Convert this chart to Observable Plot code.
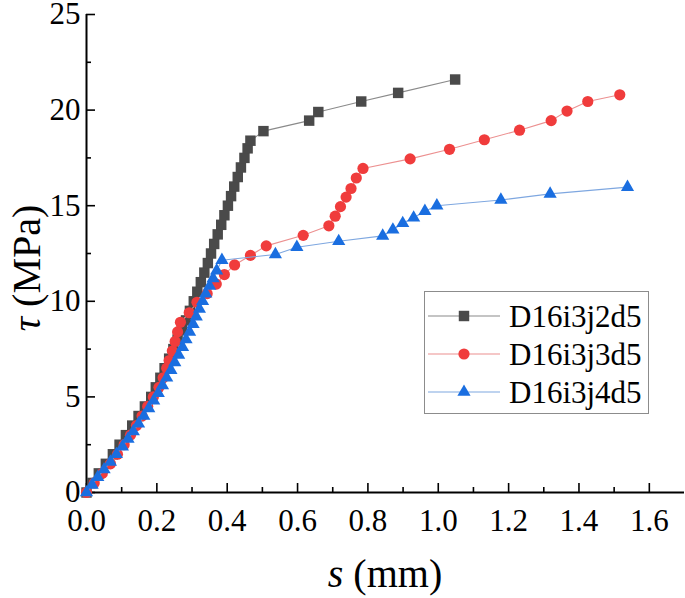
<!DOCTYPE html>
<html>
<head>
<meta charset="utf-8">
<script src="https://cdn.jsdelivr.net/npm/d3@7"></script>
<script src="https://cdn.jsdelivr.net/npm/@observablehq/plot@0.6"></script>
<style>
  body { margin: 0; background: #fff; }
  #chart { width: 685px; height: 598px; }
</style>
</head>
<body>
<div id="chart"></div>
<script>
// Series names (legend order)
var seriesNames = ["D16i3j2d5", "D16i3j3d5", "D16i3j4d5"];

// D16i3j2d5 : slip s (mm) and bond stress tau (MPa)
var sJ2 = [0.000, 0.016, 0.035, 0.055, 0.075, 0.094, 0.112, 0.130, 0.148, 0.166,
           0.184, 0.197, 0.210, 0.222, 0.235, 0.247, 0.259, 0.271, 0.283, 0.294,
           0.305, 0.315, 0.325, 0.335, 0.345, 0.354, 0.363, 0.373, 0.383, 0.392,
           0.402, 0.411, 0.420, 0.430, 0.439, 0.449, 0.458, 0.466,
           0.503, 0.633, 0.659, 0.781, 0.886, 1.048];
var tauJ2 = [0, 0.5, 1, 1.5, 2, 2.5, 3, 3.5, 4, 4.5,
             5, 5.5, 6, 6.5, 7, 7.5, 8, 8.5, 9, 9.5,
             10, 10.5, 11, 11.5, 12, 12.5, 13, 13.5, 14, 14.5,
             15, 15.5, 16, 16.5, 17, 17.5, 18, 18.4,
             18.9, 19.45, 19.9, 20.45, 20.9, 21.6];

// D16i3j3d5
var sJ3 = [0.000, 0.022, 0.045, 0.068, 0.088, 0.107, 0.125, 0.142, 0.158, 0.174,
           0.190, 0.206, 0.218, 0.228, 0.235, 0.244, 0.252, 0.259, 0.267, 0.292,
           0.314, 0.343, 0.369, 0.392, 0.421, 0.466, 0.511, 0.616, 0.689, 0.707,
           0.722, 0.738, 0.752, 0.767, 0.786, 0.920, 1.032, 1.131, 1.231, 1.321,
           1.366, 1.425, 1.516];
var tauJ3 = [0, 0.5, 1, 1.5, 2, 2.5, 3, 3.5, 4, 4.5,
             5, 5.5, 6, 6.5, 6.9, 7.4, 7.9, 8.4, 8.9, 9.4,
             9.95, 10.4, 10.9, 11.4, 11.9, 12.4, 12.9, 13.45, 13.95, 14.45,
             14.95, 15.45, 15.9, 16.45, 16.95, 17.45, 17.95, 18.45, 18.95, 19.45,
             19.95, 20.45, 20.8];

// D16i3j4d5
var sJ4 = [0.000, 0.016, 0.032, 0.050, 0.068, 0.085, 0.102, 0.118, 0.133, 0.148,
           0.163, 0.177, 0.191, 0.204, 0.216, 0.228, 0.240, 0.251, 0.262, 0.273,
           0.283, 0.293, 0.303, 0.312, 0.321, 0.330, 0.339, 0.350, 0.360, 0.370,
           0.385, 0.537, 0.598, 0.717, 0.842, 0.871, 0.899, 0.930, 0.962, 0.996,
           1.178, 1.318, 1.538];
var tauJ4 = [0, 0.4, 0.8, 1.2, 1.6, 2.0, 2.4, 2.8, 3.2, 3.6,
             4.0, 4.4, 4.8, 5.2, 5.6, 6.0, 6.4, 6.8, 7.2, 7.6,
             8.0, 8.4, 8.8, 9.2, 9.6, 10.0, 10.4, 10.8, 11.2, 11.6,
             12.15, 12.45, 12.83, 13.14, 13.42, 13.74, 14.08, 14.37, 14.71, 15.0,
             15.3, 15.62, 15.97];

// Axis ticks
var xMajorTicks = [0, 0.2, 0.4, 0.6, 0.8, 1.0, 1.2, 1.4, 1.6];
var xMinorTicks = [0.1, 0.3, 0.5, 0.7, 0.9, 1.1, 1.3, 1.5];
var yMajorTicks = [0, 5, 10, 15, 20, 25];
var yMinorTicks = [2.5, 7.5, 12.5, 17.5, 22.5];

var serif = "'Liberation Serif', 'Times New Roman', serif";

// series styling
var series = [
  {name: seriesNames[0], s: sJ2, tau: tauJ2, fill: "#4a4a4a", line: "#8a8a8a", symbol: "square", r: 5.9},
  {name: seriesNames[1], s: sJ3, tau: tauJ3, fill: "#f03c3c", line: "#ec9090", symbol: "circle", r: 5.6},
  {name: seriesNames[2], s: sJ4, tau: tauJ4, fill: "#1a6ee0", line: "#7ea7e0", symbol: "triangle", r: 4.9}
];

function toRows(sr) {
  return sr.s.map(function(v, i) { return {s: v, tau: sr.tau[i], name: sr.name}; });
}

var marks = [
  Plot.axisX(xMinorTicks, {tickSize: -5, tickFormat: function() { return ""; }, strokeWidth: 1.6, label: null}),
  Plot.axisX(xMajorTicks, {tickSize: -9, tickPadding: 25, strokeWidth: 1.6, label: null,
    tickFormat: function(d) { return d.toFixed(1); }, fontSize: 31, fontFamily: serif, fill: "#000"}),
  Plot.axisY(yMinorTicks, {tickSize: -5, tickFormat: function() { return ""; }, strokeWidth: 1.6, label: null}),
  Plot.axisY(yMajorTicks, {tickSize: -9, tickPadding: 15, strokeWidth: 1.6, label: null,
    fontSize: 31, fontFamily: serif, fill: "#000"}),
  Plot.ruleX([0], {strokeWidth: 2, stroke: "#000"}),
  Plot.ruleY([0], {strokeWidth: 2, stroke: "#000"})
];

series.forEach(function(sr) {
  var rows = toRows(sr);
  marks.push(Plot.line(rows, {x: "s", y: "tau", stroke: sr.line, strokeWidth: 1.1}));
  marks.push(Plot.dot(rows, {x: "s", y: "tau", symbol: sr.symbol, r: sr.r, fill: sr.fill, stroke: "none"}));
});

var plot = Plot.plot({
  width: 685,
  height: 598,
  marginLeft: 86,
  marginRight: 1,
  marginTop: 14,
  marginBottom: 106,
  style: {fontFamily: serif, background: "#fff", color: "#000"},
  x: {domain: [0, 1.7], label: null},
  y: {domain: [0, 25], label: null},
  marks: marks
});

document.getElementById("chart").appendChild(plot);

// axis titles with italic symbols
var svg = d3.select(plot);
var xt = svg.append("text")
  .attr("x", 385).attr("y", 587)
  .attr("text-anchor", "middle")
  .attr("font-family", serif).attr("font-size", 40).attr("fill", "#000");
xt.append("tspan").attr("font-style", "italic").text("s");
xt.append("tspan").text(" (mm)");

var yt = svg.append("text")
  .attr("transform", "translate(40,268) rotate(-90)")
  .attr("text-anchor", "middle")
  .attr("font-family", serif).attr("font-size", 40).attr("fill", "#000");
yt.append("tspan").attr("font-style", "italic").text("\u03c4");
yt.append("tspan").text(" (MPa)");

// legend box
var lg = svg.append("g").attr("text-anchor", "start");
lg.append("rect")
  .attr("x", 424.5).attr("y", 291.5).attr("width", 224).attr("height", 122)
  .attr("fill", "#fff").attr("stroke", "#8c8c8c").attr("stroke-width", 1);
var symbolTypes = {square: d3.symbolSquare, circle: d3.symbolCircle, triangle: d3.symbolTriangle};
series.forEach(function(sr, i) {
  var cy = 316 + i * 38;
  lg.append("line").attr("x1", 428).attr("x2", 500).attr("y1", cy).attr("y2", cy)
    .attr("stroke", sr.line).attr("stroke-width", 1.1);
  lg.append("path")
    .attr("d", d3.symbol(symbolTypes[sr.symbol], Math.PI * sr.r * sr.r)())
    .attr("transform", "translate(464," + cy + ")")
    .attr("fill", sr.fill);
  lg.append("text").attr("x", 509).attr("y", cy).attr("dy", "0.35em")
    .attr("text-anchor", "start")
    .attr("font-family", serif).attr("font-size", 31).attr("fill", "#000")
    .text(sr.name);
});
</script>
</body>
</html>
